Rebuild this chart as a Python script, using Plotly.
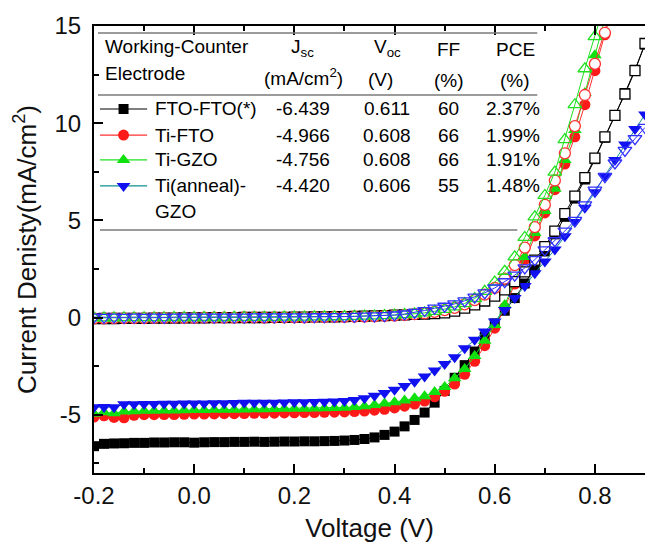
import plotly.graph_objects as go

# Applied bias (V)
voltage = [-0.20, -0.18, -0.16, -0.14, -0.12, -0.10, -0.08, -0.06, -0.04, -0.02,
           0.00, 0.02, 0.04, 0.06, 0.08, 0.10, 0.12, 0.14, 0.16, 0.18,
           0.20, 0.22, 0.24, 0.26, 0.28, 0.30, 0.32, 0.34, 0.36, 0.38,
           0.40, 0.42, 0.44, 0.46, 0.48, 0.50, 0.52, 0.54, 0.56, 0.58,
           0.60, 0.62, 0.64, 0.66, 0.68, 0.70, 0.72, 0.74, 0.76, 0.78,
           0.80, 0.82, 0.84, 0.86, 0.88, 0.90]

# Current density under illumination (mA/cm^2)
fto_fto_light = [-6.62, -6.50, -6.48, -6.47, -6.45, -6.45, -6.43, -6.43, -6.42, -6.42,
                 -6.44, -6.42, -6.41, -6.41, -6.40, -6.40, -6.39, -6.40, -6.39, -6.38,
                 -6.38, -6.37, -6.37, -6.36, -6.35, -6.33, -6.30, -6.25, -6.17, -6.04,
                 -5.87, -5.60, -5.27, -4.89, -4.38, -3.78, -3.10, -2.45, -1.75, -1.00,
                 -0.30, 0.35, 1.00, 1.75, 2.58, 3.40, 4.28, 5.18, 6.12, 7.10,
                 8.15, 9.25, 10.40, 11.55, 12.75, 14.05]
ti_fto_light = [-5.12, -5.06, -5.14, -5.16, -5.03, -5.00, -5.00, -4.99, -4.99, -4.98,
                -4.97, -4.97, -4.96, -4.95, -4.95, -4.94, -4.93, -4.93, -4.92, -4.91,
                -4.90, -4.89, -4.89, -4.88, -4.87, -4.86, -4.84, -4.81, -4.77, -4.72,
                -4.65, -4.56, -4.45, -4.30, -4.08, -3.80, -3.42, -2.92, -2.25, -1.45,
                -0.55, 0.52, 1.72, 2.98, 4.20, 5.38, 6.58, 7.90, 9.30, 10.95,
                12.70, 14.55, 16.40, 18.30, 20.20, 22.10]
ti_gzo_light = [-4.95, -4.88, -4.92, -4.84, -4.82, -4.80, -4.80, -4.79, -4.78, -4.77,
                -4.76, -4.76, -4.75, -4.74, -4.74, -4.73, -4.72, -4.72, -4.71, -4.70,
                -4.70, -4.69, -4.68, -4.67, -4.66, -4.64, -4.61, -4.57, -4.50, -4.42,
                -4.36, -4.27, -4.16, -4.05, -3.83, -3.58, -3.12, -2.65, -1.98, -1.19,
                -0.38, 0.65, 1.85, 3.12, 4.35, 5.48, 6.62, 8.10, 9.65, 11.55,
                13.50, 15.45, 17.40, 19.30, 21.20, 23.10]
ti_anneal_gzo_light = [-4.62, -4.60, -4.62, -4.46, -4.46, -4.45, -4.45, -4.44, -4.44, -4.43,
                       -4.42, -4.42, -4.41, -4.41, -4.40, -4.39, -4.39, -4.38, -4.38, -4.37,
                       -4.36, -4.36, -4.35, -4.34, -4.32, -4.29, -4.24, -4.15, -4.03, -3.88,
                       -3.72, -3.52, -3.30, -3.04, -2.73, -2.39, -2.04, -1.58, -1.15, -0.72,
                       -0.21, 0.39, 1.00, 1.62, 2.28, 2.88, 3.50, 4.18, 4.92, 5.65,
                       6.45, 7.30, 8.10, 8.90, 9.70, 10.45]

# Current density in the dark (mA/cm^2)
fto_fto_dark = [-0.06, -0.05, -0.05, -0.04, -0.04, -0.04, -0.03, -0.03, -0.03, -0.02,
                -0.02, -0.02, -0.01, -0.01, -0.01, 0.00, 0.00, 0.00, 0.01, 0.01,
                0.02, 0.02, 0.03, 0.03, 0.04, 0.05, 0.06, 0.07, 0.08, 0.10,
                0.12, 0.14, 0.16, 0.18, 0.20, 0.24, 0.33, 0.48, 0.65, 0.85,
                1.10, 1.42, 1.85, 2.35, 2.95, 3.65, 4.45, 5.35, 6.25, 7.20,
                8.20, 9.30, 10.40, 11.50, 12.70, 14.10]
ti_fto_dark = [-0.04, -0.04, -0.03, -0.03, -0.03, -0.03, -0.02, -0.02, -0.02, -0.02,
               -0.02, -0.01, -0.01, -0.01, -0.01, 0.00, 0.00, 0.00, 0.00, 0.01,
               0.01, 0.01, 0.02, 0.02, 0.03, 0.03, 0.04, 0.05, 0.06, 0.08,
               0.10, 0.13, 0.17, 0.22, 0.29, 0.38, 0.50, 0.68, 0.90, 1.18,
               1.52, 2.00, 2.70, 3.60, 4.65, 5.80, 7.05, 8.45, 9.85, 11.45,
               13.05, 14.65, 16.30, 18.00, 19.70, 21.40]
ti_gzo_dark = [-0.02, -0.02, -0.02, -0.01, -0.01, -0.01, -0.01, -0.01, 0.00, 0.00,
               0.00, 0.00, 0.00, 0.00, 0.01, 0.01, 0.01, 0.01, 0.01, 0.02,
               0.02, 0.02, 0.03, 0.03, 0.04, 0.05, 0.06, 0.07, 0.08, 0.10,
               0.12, 0.15, 0.19, 0.24, 0.32, 0.42, 0.55, 0.72, 0.98, 1.35,
               1.82, 2.38, 3.12, 4.12, 5.18, 6.28, 7.48, 9.15, 10.95, 12.80,
               14.45, 16.20, 17.90, 19.60, 21.30, 23.00]
ti_anneal_gzo_dark = [0.02, 0.01, 0.02, 0.01, 0.02, 0.01, 0.02, 0.01, 0.02, 0.02,
                      0.02, 0.02, 0.02, 0.02, 0.02, 0.02, 0.03, 0.03, 0.03, 0.03,
                      0.03, 0.03, 0.04, 0.04, 0.05, 0.05, 0.06, 0.07, 0.08, 0.10,
                      0.13, 0.18, 0.26, 0.36, 0.48, 0.58, 0.70, 0.86, 1.05, 1.27,
                      1.52, 1.84, 2.18, 2.55, 2.98, 3.48, 3.95, 4.45, 5.00, 5.80,
                      6.55, 7.25, 7.95, 8.60, 9.20, 9.78]

# Photovoltaic parameters table
devices = ["FTO-FTO(*)", "Ti-FTO", "Ti-GZO", "Ti(anneal)-<br>GZO"]
jsc_vals = ["-6.439", "-4.966", "-4.756", "-4.420"]
voc_vals = ["0.611", "0.608", "0.608", "0.606"]
ff_vals = ["60", "66", "66", "55"]
pce_vals = ["2.37%", "1.99%", "1.91%", "1.48%"]

light_series = [fto_fto_light, ti_fto_light, ti_gzo_light, ti_anneal_gzo_light]
dark_series = [fto_fto_dark, ti_fto_dark, ti_gzo_dark, ti_anneal_gzo_dark]

styles = [
    dict(symbol="square", mcolor="#000000", lcolor="#000000", dline="#000000", size=10),
    dict(symbol="circle", mcolor="#ff1a1a", lcolor="#ff3030", dline="#ff3030", size=11),
    dict(symbol="triangle-up", mcolor="#10e010", lcolor="#20e020", dline="#20e020", size=12),
    dict(symbol="triangle-down", mcolor="#1010f0", lcolor="#109090", dline="#3030ff", size=12),
]

FONT = "Liberation Sans, Arial, Helvetica, sans-serif"

fig = go.Figure()

# Illuminated curves (filled markers)
for ys, st in zip(light_series, styles):
    fig.add_trace(go.Scatter(
        x=voltage, y=ys, mode="lines+markers", showlegend=False,
        line=dict(color=st["lcolor"], width=1),
        marker=dict(symbol=st["symbol"], size=st["size"], color=st["mcolor"],
                    line=dict(width=0)),
    ))

# Dark curves (open markers)
for ys, st in zip(dark_series, styles):
    opaque = st["symbol"] in ("square", "circle")
    fig.add_trace(go.Scatter(
        x=voltage, y=ys, mode="lines+markers", showlegend=False,
        line=dict(color=st["dline"], width=1),
        marker=dict(symbol=st["symbol"] if opaque else st["symbol"] + "-open",
                    size=st["size"], color="white" if opaque else st["dline"],
                    line=dict(width=1.3, color=st["dline"])),
    ))

# Table rows positions (data coordinates)
row_y = [10.73, 9.39, 8.11, 6.77]
x_line0, x_line1, x_mark = -0.188, -0.094, -0.141

for i, st in enumerate(styles):
    fig.add_trace(go.Scatter(
        x=[x_line0, x_line1], y=[row_y[i], row_y[i]], mode="lines", showlegend=False,
        line=dict(color=st["lcolor"], width=1.2), hoverinfo="skip",
    ))
    fig.add_trace(go.Scatter(
        x=[x_mark], y=[row_y[i]], mode="markers", showlegend=False,
        marker=dict(symbol=st["symbol"], size=st["size"], color=st["mcolor"],
                    line=dict(width=0)), hoverinfo="skip",
    ))

annotations = []
tf = dict(family=FONT, size=19, color="#000000")


def note(x, y, text, anchor="center"):
    annotations.append(dict(x=x, y=y, xref="x", yref="y", text=text, showarrow=False,
                            xanchor=anchor, yanchor="middle", font=tf))


# header
note(-0.182, 13.92, "Working-Counter", "left")
note(-0.182, 12.58, "Electrode", "left")
note(0.217, 13.87, "J<sub>sc</sub>")
note(0.219, 12.38, "(mA/cm<sup>2</sup>)")
note(0.386, 13.87, "V<sub>oc</sub>")
note(0.372, 12.27, "(V)")
note(0.508, 13.77, "FF")
note(0.508, 12.22, "(%)")
note(0.641, 13.77, "PCE")
note(0.641, 12.22, "(%)")

# body
for i in range(4):
    if "<br>" in devices[i]:
        first, second = devices[i].split("<br>")
        note(-0.082, row_y[i], first, "left")
        note(-0.082, 5.43, second, "left")
    else:
        note(-0.082, row_y[i], devices[i], "left")
    note(0.275, row_y[i], jsc_vals[i], "right")
    note(0.385, row_y[i], voc_vals[i])
    note(0.508, row_y[i], ff_vals[i])
    note(0.695, row_y[i], pce_vals[i], "right")

shapes = [
    dict(type="line", xref="x", yref="y", x0=-0.192, x1=0.685, y0=14.64, y1=14.64,
         line=dict(color="#7a7a7a", width=1.5)),
    dict(type="line", xref="x", yref="y", x0=-0.192, x1=0.685, y0=11.45, y1=11.45,
         line=dict(color="#7a7a7a", width=1.5)),
    dict(type="line", xref="x", yref="y", x0=-0.188, x1=0.645, y0=4.50, y1=4.50,
         line=dict(color="#7a7a7a", width=1.5)),
]

fig.update_layout(
    width=645, height=544,
    margin=dict(l=94, r=0, t=26, b=71),
    paper_bgcolor="white", plot_bgcolor="white",
    font=dict(family=FONT, color="#000000"),
    annotations=annotations, shapes=shapes,
    showlegend=False,
)

fig.update_xaxes(
    range=[-0.2, 0.9], tickmode="array",
    tickvals=[-0.2, 0.0, 0.2, 0.4, 0.6, 0.8],
    ticktext=["-0.2", "0.0", "0.2", "0.4", "0.6", "0.8"],
    ticks="inside", ticklen=9, tickwidth=1.5, tickcolor="black",
    minor=dict(ticks="inside", ticklen=5, tickwidth=1.5, tickcolor="black", dtick=0.1, tick0=-0.2),
    showline=True, linecolor="black", linewidth=2, mirror="ticks",
    showgrid=False, zeroline=False,
    tickfont=dict(family=FONT, size=24, color="#111111"),
    title=dict(text="Voltage (V)", font=dict(family=FONT, size=26, color="#111111"), standoff=11),
)
fig.update_yaxes(
    range=[-8, 15], tickmode="array",
    tickvals=[-5, 0, 5, 10, 15], ticktext=["-5", "0", "5", "10", "15"],
    ticks="inside", ticklen=9, tickwidth=1.5, tickcolor="black",
    minor=dict(ticks="inside", ticklen=5, tickwidth=1.5, tickcolor="black", dtick=2.5, tick0=0),
    showline=True, linecolor="black", linewidth=2, mirror=False,
    showgrid=False, zeroline=False,
    ticklabelstandoff=6,
    tickfont=dict(family=FONT, size=24, color="#111111"),
    title=dict(text="Current Denisty(mA/cm<sup>2</sup>)", font=dict(family=FONT, size=26, color="#111111"), standoff=10),
)

fig.write_html("out.html")
